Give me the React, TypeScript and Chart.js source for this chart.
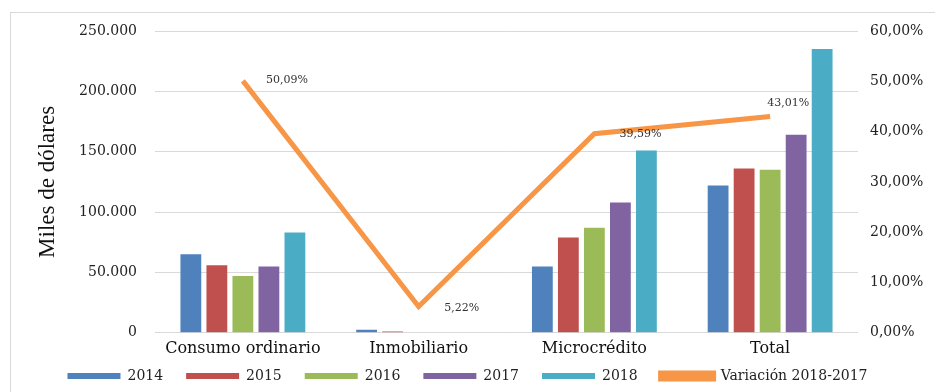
import React, { useEffect, useRef } from "react";
import { Chart, registerables } from "chart.js";
Chart.register(...registerables);

const categories = ["Consumo ordinario", "Inmobiliario", "Microcrédito", "Total"];
const years = ["2014", "2015", "2016", "2017", "2018"];
const v2014 = [65000, 2500, 55000, 122000];
const v2015 = [56000, 1000, 79000, 136000];
const v2016 = [47000, 0, 87000, 135000];
const v2017 = [55000, 0, 108000, 164000];
const v2018 = [83000, 0, 151000, 235000];
const variacion = [50.09, 5.22, 39.59, 43.01];
const variacionLabels = ["50,09%", "5,22%", "39,59%", "43,01%"];
const leftTicks = [0, 50000, 100000, 150000, 200000, 250000];
const rightTicks = [0, 10, 20, 30, 40, 50, 60];

const colors = ["#4F81BD", "#C0504D", "#9BBB59", "#8064A2", "#4BACC6"];
const lineColor = "#F79646";

const fmtThousands = (v: number) =>
  v === 0 ? "0" : v.toLocaleString("de-DE", { maximumFractionDigits: 0 });
const fmtPct = (v: number) => v.toFixed(2).replace(".", ",") + "%";

const labelOffsets = [
  [44, -1],
  [43, 2],
  [46, 0],
  [18, -13],
];

const lineLabelsPlugin = {
  id: "lineLabels",
  afterDatasetsDraw(chart: any) {
    const meta = chart.getDatasetMeta(5);
    const ctx = chart.ctx;
    ctx.save();
    ctx.font = "11px 'DejaVu Serif'";
    ctx.fillStyle = "#333";
    ctx.textAlign = "center";
    ctx.textBaseline = "middle";
    meta.data.forEach((pt: any, i: number) => {
      ctx.fillText(variacionLabels[i], pt.x + labelOffsets[i][0], pt.y + labelOffsets[i][1]);
    });
    ctx.restore();
  },
};

const framePlugin = {
  id: "frame",
  beforeDraw(chart: any) {
    const ctx = chart.ctx;
    ctx.save();
    ctx.fillStyle = "#fff";
    ctx.fillRect(0, 0, chart.width, chart.height);
    ctx.strokeStyle = "#d9d9d9";
    ctx.lineWidth = 1;
    ctx.strokeRect(10.5, 12.5, chart.width, chart.height);
    ctx.restore();
  },
};

const LEGEND_H = 28;
const LEGEND_CENTER_Y = 376;
const LEGEND_PAD = 23;

const legendFitPlugin = {
  id: "legendFit",
  afterInit(chart: any) {
    const lg = chart.legend;
    if (!lg) return;
    const orig = lg.fit;
    lg.fit = function () {
      orig.call(this);
      this.height = LEGEND_H;
    };
  },
  afterLayout(chart: any) {
    const lg = chart.legend;
    if (!lg) return;
    const top = LEGEND_CENTER_Y - LEGEND_PAD - 7;
    lg.top = top;
    lg.bottom = chart.height;
    lg.height = chart.height - top;
  },
};

export default function App() {
  const ref = useRef<HTMLCanvasElement>(null);
  useEffect(() => {
    document.body.style.margin = "0";
    const bars = [v2014, v2015, v2016, v2017, v2018].map((d, i) => ({
      type: "bar" as const,
      label: years[i],
      data: d,
      backgroundColor: colors[i],
      borderWidth: 0,
      yAxisID: "y",
      barPercentage: 0.8,
      categoryPercentage: 0.74,
      order: 2,
    }));
    const chart = new Chart(ref.current!, {
      type: "bar",
      data: {
        labels: categories,
        datasets: [
          ...bars,
          {
            type: "line" as const,
            label: "Variación 2018-2017",
            data: variacion,
            borderColor: lineColor,
            backgroundColor: lineColor,
            borderWidth: 5,
            pointRadius: 0,
            tension: 0,
            yAxisID: "y1",
            order: 1,
          } as any,
        ],
      },
      options: {
        animation: false,
        responsive: false,
        layout: { padding: { top: 31, left: 0, right: 0, bottom: 0 } },
        plugins: {
          legend: {
            position: "bottom",
            labels: {
              boxWidth: 53,
              boxHeight: 6,
              padding: LEGEND_PAD,
              color: "#222",
              font: { family: "'DejaVu Serif'", size: 14 },
              sort: (a: any, b: any) => a.datasetIndex - b.datasetIndex,
            },
          },
          tooltip: { enabled: false },
        },
        scales: {
          x: {
            grid: { display: false, drawTicks: false },
            border: { display: false },
            ticks: {
              color: "#111",
              font: { family: "'DejaVu Serif'", size: 16 },
              padding: 6,
            },
          },
          y: {
            position: "left",
            min: 0,
            max: 250000,
            afterFit: (s: any) => {
              s.width = 155;
            },
            afterBuildTicks: (s: any) => {
              s.ticks = leftTicks.map((v) => ({ value: v }));
            },
            grid: { color: "#d9d9d9", drawTicks: false },
            border: { display: false },
            ticks: {
              padding: 18,
              color: "#222",
              font: { family: "'DejaVu Serif'", size: 14 },
              callback: (v: any) => fmtThousands(Number(v)),
            },
            title: {
              display: true,
              text: "Miles de dólares",
              color: "#111",
              font: { family: "'Liberation Serif'", size: 23 },
              padding: { top: 34, bottom: 0 },
            },
          },
          y1: {
            position: "right",
            min: 0,
            max: 60,
            afterFit: (s: any) => {
              s.width = 77;
            },
            afterBuildTicks: (s: any) => {
              s.ticks = rightTicks.map((v) => ({ value: v }));
            },
            grid: { display: false, drawTicks: false },
            border: { display: false },
            ticks: {
              padding: 12,
              color: "#222",
              font: { family: "'DejaVu Serif'", size: 14 },
              callback: (v: any) => fmtPct(Number(v)),
            },
          },
        },
      },
      plugins: [framePlugin, lineLabelsPlugin, legendFitPlugin],
    });
    return () => chart.destroy();
  }, []);
  return <canvas ref={ref} width={935} height={392} style={{ display: "block" }} />;
}
